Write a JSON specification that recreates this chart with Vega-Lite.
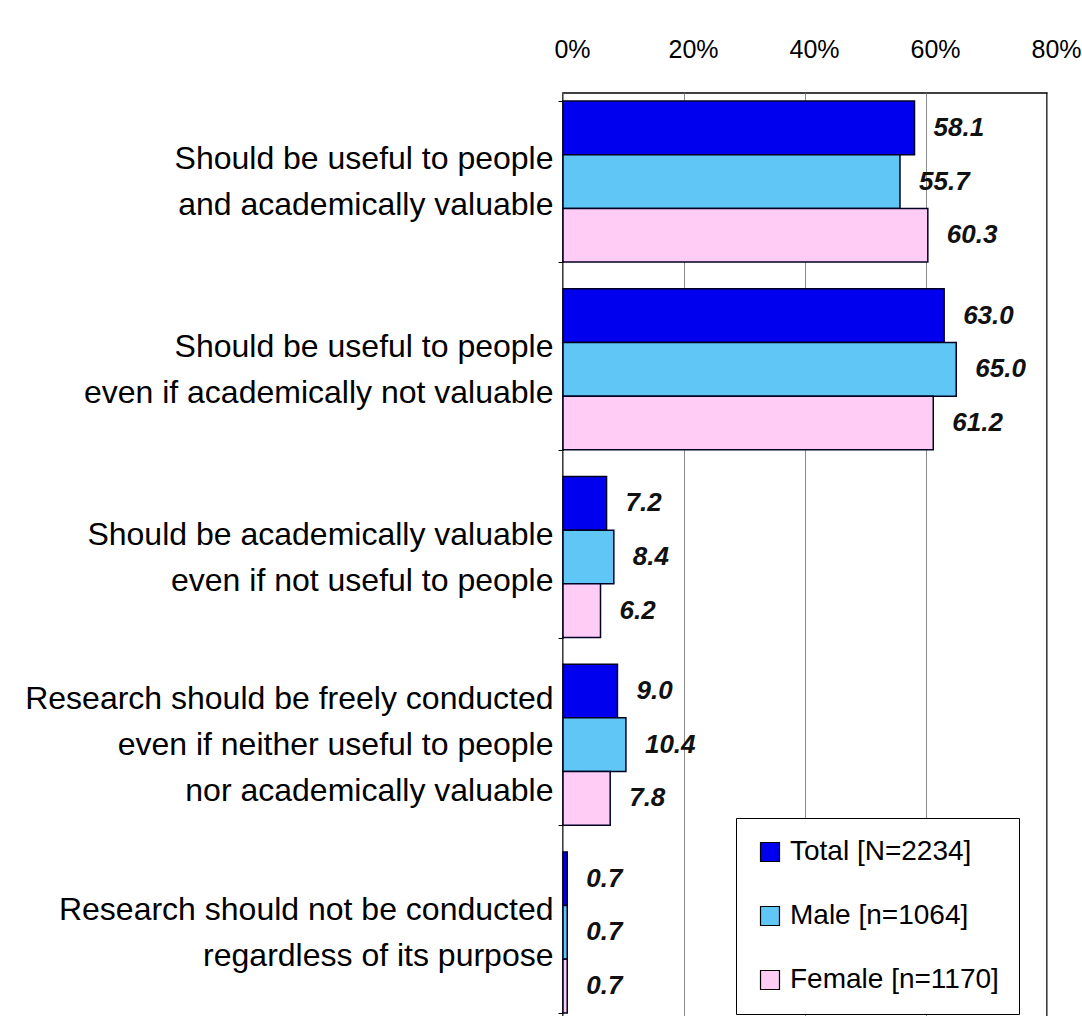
{
  "$schema": "https://vega.github.io/schema/vega-lite/v6.json",
  "autosize": {"type": "none"},
  "padding": {"left": 563, "top": 93, "right": 35, "bottom": 0},
  "width": 484,
  "height": 928,
  "background": "white",
  "config": {
    "view": {"stroke": "#000000", "strokeWidth": 1.5},
    "font": "Liberation Sans"
  },
  "data": {
    "values": [
      {"cat": "Should be useful to people|and academically valuable", "series": "Total [N=2234]", "value": 58.1},
      {"cat": "Should be useful to people|and academically valuable", "series": "Male [n=1064]", "value": 55.7},
      {"cat": "Should be useful to people|and academically valuable", "series": "Female [n=1170]", "value": 60.3},
      {"cat": "Should be useful to people|even if academically not valuable", "series": "Total [N=2234]", "value": 63.0},
      {"cat": "Should be useful to people|even if academically not valuable", "series": "Male [n=1064]", "value": 65.0},
      {"cat": "Should be useful to people|even if academically not valuable", "series": "Female [n=1170]", "value": 61.2},
      {"cat": "Should be academically valuable|even if not useful to people", "series": "Total [N=2234]", "value": 7.2},
      {"cat": "Should be academically valuable|even if not useful to people", "series": "Male [n=1064]", "value": 8.4},
      {"cat": "Should be academically valuable|even if not useful to people", "series": "Female [n=1170]", "value": 6.2},
      {"cat": "Research should be freely conducted|even if neither useful to people|nor academically valuable", "series": "Total [N=2234]", "value": 9.0},
      {"cat": "Research should be freely conducted|even if neither useful to people|nor academically valuable", "series": "Male [n=1064]", "value": 10.4},
      {"cat": "Research should be freely conducted|even if neither useful to people|nor academically valuable", "series": "Female [n=1170]", "value": 7.8},
      {"cat": "Research should not be conducted|regardless of its purpose", "series": "Total [N=2234]", "value": 0.7},
      {"cat": "Research should not be conducted|regardless of its purpose", "series": "Male [n=1064]", "value": 0.7},
      {"cat": "Research should not be conducted|regardless of its purpose", "series": "Female [n=1170]", "value": 0.7}
    ]
  },
  "encoding": {
    "y": {
      "field": "cat",
      "type": "nominal",
      "sort": null,
      "title": null,
      "scale": {"paddingInner": 0.142, "paddingOuter": 0.043},
      "axis": {
        "labelExpr": "split(datum.label, '|')",
        "labelFontSize": 32,
        "labelLineHeight": 46,
        "labelColor": "#000000",
        "labelPadding": 5,
        "labelLimit": 600,
        "labelOffset": {"condition": {"test": "indexof(datum.label, 'freely') >= 0", "value": -46}, "value": -23},
        "tickBand": "extent",
        "tickSize": 5,
        "tickColor": "#000000",
        "domain": false,
        "grid": false
      }
    },
    "yOffset": {
      "field": "series",
      "type": "nominal",
      "sort": ["Total [N=2234]", "Male [n=1064]", "Female [n=1170]"],
      "scale": {"paddingInner": 0, "paddingOuter": 0}
    },
    "x": {
      "field": "value",
      "type": "quantitative",
      "scale": {"domain": [0, 80], "nice": false},
      "title": null,
      "axis": {
        "orient": "top",
        "values": [0, 20, 40, 60, 80],
        "labelExpr": "datum.value + '%'",
        "labelFontSize": 25,
        "labelColor": "#000000",
        "labelOffset": 9,
        "labelFlush": false,
        "labelBound": false,
        "labelPadding": 31,
        "ticks": false,
        "domain": false,
        "grid": true,
        "gridColor": "#8c8c8c",
        "gridWidth": 1,
        "gridOpacity": 1
      }
    }
  },
  "layer": [
    {
      "mark": {"type": "bar", "stroke": "#000022", "strokeWidth": 1.5},
      "encoding": {
        "color": {
          "field": "series",
          "type": "nominal",
          "sort": ["Total [N=2234]", "Male [n=1064]", "Female [n=1170]"],
          "scale": {
            "domain": ["Total [N=2234]", "Male [n=1064]", "Female [n=1170]"],
            "range": ["#0000ee", "#5fc6f5", "#ffccf6"]
          },
          "legend": {
            "title": null,
            "orient": "none",
            "legendX": 173,
            "legendY": 725,
            "direction": "vertical",
            "fillColor": "#ffffff",
            "strokeColor": "#000000",
            "padding": 20,
            "symbolType": "square",
            "symbolSize": 360,
            "symbolStrokeColor": "#000000",
            "symbolStrokeWidth": 1.2,
            "symbolOpacity": 1,
            "labelFontSize": 28,
            "labelColor": "#000000",
            "labelOffset": 6,
            "rowPadding": 36,
            "labelLimit": 400
          }
        }
      }
    },
    {
      "mark": {"type": "text", "align": "left", "baseline": "middle", "dx": 19, "fontSize": 26, "fontWeight": "bold", "fontStyle": "italic", "color": "#111111"},
      "encoding": {
        "text": {"field": "value", "type": "quantitative", "format": ".1f"}
      }
    }
  ]
}
